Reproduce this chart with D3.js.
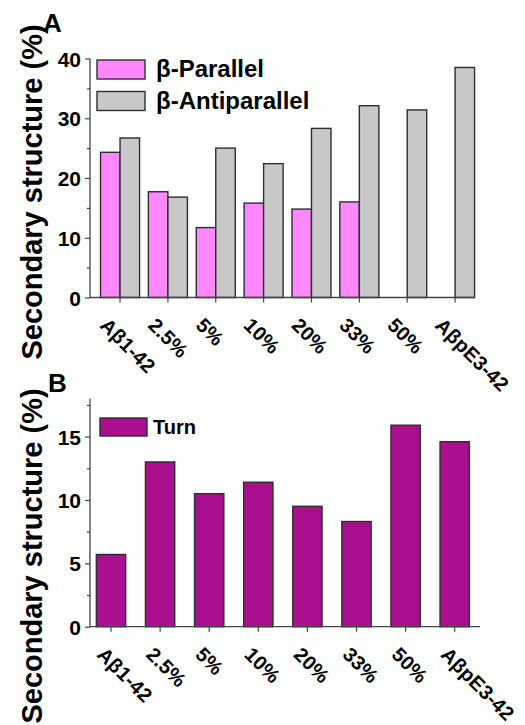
<!DOCTYPE html>
<html>
<head>
<meta charset="utf-8">
<script src="https://cdn.jsdelivr.net/npm/d3@7"></script>
<style>
  html, body { margin: 0; padding: 0; background: #fff; }
  svg { display: block; }
  text { font-family: "Liberation Sans", Arial, sans-serif; font-weight: bold; fill: #000; }
</style>
</head>
<body>
<svg id="chart" width="525" height="725"></svg>
<script>
// Sample groups along the x axis (same for both panels)
const categories = ["Aβ1-42", "2.5%", "5%", "10%", "20%", "33%", "50%", "AβpE3-42"];

// Panel A: β-sheet content (%)
const parallelValues     = [24.3, 17.7, 11.7, 15.8, 14.8, 16.0, null, null];
const antiparallelValues = [26.7, 16.8, 25.0, 22.4, 28.3, 32.1, 31.4, 38.5];

// Panel B: turn content (%)
const turnValues = [5.7, 13.0, 10.5, 11.4, 9.5, 8.3, 15.9, 14.6];

// Axis ticks
const ticksA = [0, 10, 20, 30, 40];
const minorTicksA = [5, 15, 25, 35];
const ticksB = [0, 5, 10, 15];
const minorTicksB = [2.5, 7.5, 12.5, 17.5];

const seriesA = [
  { name: "β-Parallel", values: parallelValues, color: "#ff88ff" },
  { name: "β-Antiparallel", values: antiparallelValues, color: "#c8c8c8" }
];
const seriesB = [{ name: "Turn", values: turnValues, color: "#aa0f8f" }];

const svg = d3.select("#chart");
const stroke = "#2e2e2e";
const axisColor = "#444";

function drawYAxis(g, y, major, minor, x0) {
  const ax = g.append("g").attr("transform", `translate(${x0},0)`)
    .call(d3.axisLeft(y).tickValues(major).tickSize(5).tickPadding(4).tickSizeOuter(0));
  ax.select(".domain").remove();
  ax.selectAll(".tick line").attr("stroke", axisColor).attr("stroke-width", 1.2);
  ax.selectAll(".tick text").style("font-size", "21px").attr("dy", "0.36em")
    .style("font-family", "'Liberation Sans', Arial, sans-serif").style("font-weight", "bold");
  const mn = g.append("g").attr("transform", `translate(${x0},0)`)
    .call(d3.axisLeft(y).tickValues(minor).tickSize(3).tickFormat(""));
  mn.select(".domain").remove();
  mn.selectAll(".tick line").attr("stroke", axisColor).attr("stroke-width", 1.2);
  const [r0, r1] = y.range();
  g.append("line").attr("x1", x0).attr("x2", x0).attr("y1", r0).attr("y2", r1)
    .attr("stroke", axisColor).attr("stroke-width", 1.3);
}

function drawXAxis(g, x, yBase, x0, x1, dx) {
  const ax = g.append("g").attr("transform", `translate(0,${yBase})`)
    .call(d3.axisBottom(x).tickSize(5).tickSizeOuter(0));
  ax.select(".domain").remove();
  ax.selectAll(".tick line").attr("stroke", axisColor).attr("stroke-width", 1.2);
  ax.selectAll(".tick text")
    .attr("text-anchor", "start")
    .attr("y", 0).attr("dy", 0)
    .attr("transform", `translate(${dx},29) rotate(45)`)
    .style("font-size", "20px")
    .style("letter-spacing", "0.2px")
    .style("font-family", "'Liberation Sans', Arial, sans-serif").style("font-weight", "bold");
  g.append("line").attr("x1", x0).attr("x2", x1).attr("y1", yBase).attr("y2", yBase)
    .attr("stroke", axisColor).attr("stroke-width", 1.3);
}

function yTitle(cy) {
  svg.append("text")
    .attr("transform", `translate(42,${cy}) rotate(-90)`)
    .attr("text-anchor", "middle")
    .style("font-size", "29px")
    .text("Secondary structure (%)");
}

// ---------- Panel A ----------
const gA = svg.append("g");
const xA = d3.scaleBand().domain(categories).range([96.1, 479.0])
  .paddingInner(0.185).paddingOuter(0.0925);
const xSubA = d3.scaleBand().domain(seriesA.map(s => s.name)).range([0, xA.bandwidth()]);
const yA = d3.scaleLinear().domain([0, 40]).range([297.5, 58.5]);

seriesA.forEach(s => {
  gA.append("g").selectAll("rect")
    .data(categories.map((c, i) => ({ c, v: s.values[i] })).filter(d => d.v != null))
    .join("rect")
    .attr("x", d => xA(d.c) + xSubA(s.name))
    .attr("y", d => yA(d.v))
    .attr("width", xSubA.bandwidth())
    .attr("height", d => yA(0) - yA(d.v))
    .attr("fill", s.color)
    .attr("stroke", stroke)
    .attr("stroke-width", 1.4);
});
drawXAxis(gA, xA, yA(0), 90, 475, -21);
drawYAxis(gA, yA, ticksA, minorTicksA, 90);

// legend A
const legA = gA.append("g");
seriesA.forEach((s, i) => {
  const ly = 60 + i * 31.5;
  legA.append("rect").attr("x", 97).attr("y", ly).attr("width", 48).attr("height", 19)
    .attr("fill", s.color).attr("stroke", stroke).attr("stroke-width", 1.4);
  legA.append("text").attr("x", 156).attr("y", ly + 17).style("font-size", "24px")
    .text(s.name);
});

svg.append("text").attr("x", 43).attr("y", 32).style("font-size", "26px").text("A");
yTitle(192);

// ---------- Panel B ----------
const gB = svg.append("g");
const xB = d3.scaleBand().domain(categories).range([86.45, 479.25])
  .paddingInner(0.403).paddingOuter(0.2015);
const yB = d3.scaleLinear().domain([0, 18]).range([626.7, 398.6]);

gB.append("g").selectAll("rect")
  .data(categories.map((c, i) => ({ c, v: turnValues[i] })))
  .join("rect")
  .attr("x", d => xB(d.c))
  .attr("y", d => yB(d.v))
  .attr("width", xB.bandwidth())
  .attr("height", d => yB(0) - yB(d.v))
  .attr("fill", seriesB[0].color)
  .attr("stroke", stroke)
  .attr("stroke-width", 1.4);
drawXAxis(gB, xB, yB(0), 90, 480, -15);
drawYAxis(gB, yB, ticksB, minorTicksB, 90);

// legend B
const legB = gB.append("g");
legB.append("rect").attr("x", 100).attr("y", 418).attr("width", 47).attr("height", 18)
  .attr("fill", seriesB[0].color).attr("stroke", stroke).attr("stroke-width", 1.4);
legB.append("text").attr("x", 153).attr("y", 434).style("font-size", "20px").text(seriesB[0].name);

svg.append("text").attr("x", 48).attr("y", 392).style("font-size", "26px").text("B");
yTitle(556);
</script>
</body>
</html>
